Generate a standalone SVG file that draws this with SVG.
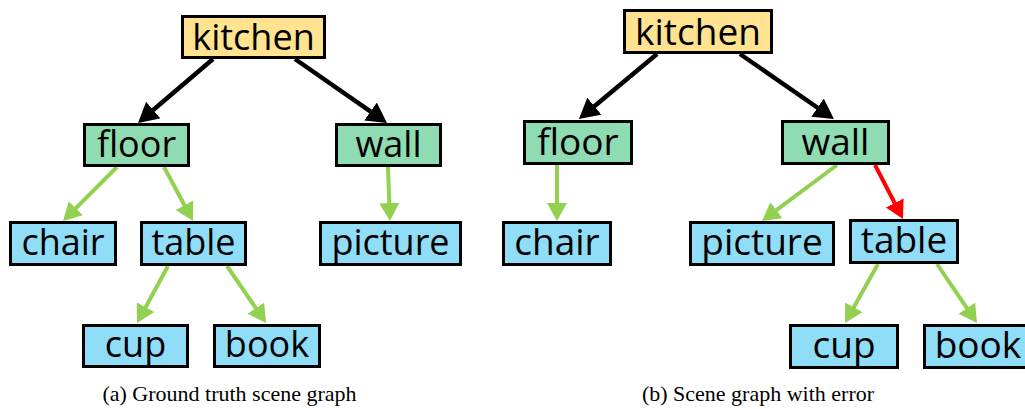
<svg xmlns="http://www.w3.org/2000/svg" width="1025" height="409" viewBox="0 0 1025 409">
  <style>
    .box { stroke: #000; stroke-width: 3; }
    .k { fill: #FFE391; }
    .g { fill: #8FDCB2; }
    .b { fill: #90DDF8; }
    .lbl { font-family: "Open Sans", "Liberation Sans", sans-serif; font-size: 36px; fill: #000; text-anchor: middle; }
    .lblr { font-size: 37px; }
    .cap { font-family: "Liberation Serif", "Times New Roman", serif; font-size: 22px; fill: #000; text-anchor: middle; }
    .blk { stroke: #000; stroke-width: 4.5; fill: none; marker-end: url(#ahBlack); }
    .grn { stroke: #92D050; stroke-width: 4; fill: none; marker-end: url(#ahGreen); }
    .red { stroke: #FF0000; stroke-width: 4; fill: none; marker-end: url(#ahRed); }
  </style>
  <defs>
    <marker id="ahBlack" markerUnits="userSpaceOnUse" markerWidth="21" markerHeight="23" refX="12" refY="11" orient="auto" viewBox="0 0 21 23">
      <path d="M0,0 L20,11 L0,22 z" fill="#000"/>
    </marker>
    <marker id="ahGreen" markerUnits="userSpaceOnUse" markerWidth="19" markerHeight="21" refX="10" refY="10" orient="auto" viewBox="0 0 19 21">
      <path d="M0,0 L18,10 L0,20 z" fill="#92D050"/>
    </marker>
    <marker id="ahRed" markerUnits="userSpaceOnUse" markerWidth="19" markerHeight="21" refX="10" refY="10" orient="auto" viewBox="0 0 19 21">
      <path d="M0,0 L18,10 L0,20 z" fill="#FF0000"/>
    </marker>
  </defs>

  <g id="connectors">
    <!-- (a) -->
    <line class="blk" x1="213" y1="59" x2="144.1" y2="117.8"/>
    <line class="blk" x1="295" y1="59" x2="380.4" y2="118.4"/>
    <line class="grn" x1="117" y1="167" x2="68.7" y2="215.3"/>
    <line class="grn" x1="164" y1="167" x2="189.2" y2="214"/>
    <line class="grn" x1="388" y1="167" x2="389.7" y2="213"/>
    <line class="grn" x1="168" y1="266" x2="140.8" y2="316"/>
    <line class="grn" x1="227" y1="266" x2="261.5" y2="316.4"/>
    <!-- (b) -->
    <line class="blk" x1="657" y1="54" x2="585.1" y2="113.9"/>
    <line class="blk" x1="740" y1="54" x2="827.4" y2="114.5"/>
    <line class="grn" x1="557" y1="165" x2="557" y2="213"/>
    <line class="grn" x1="837" y1="165" x2="768.4" y2="216.2"/>
    <line class="red" x1="875" y1="165" x2="899.3" y2="211.9"/>
    <line class="grn" x1="878" y1="264" x2="848.9" y2="316"/>
    <line class="grn" x1="937" y1="264" x2="972.5" y2="316.4"/>
  </g>

  <!-- (a) Ground truth -->
  <g id="a-kitchen"><rect class="box k" x="182.5" y="16.5" width="142" height="41"/><text class="lbl" x="253.5" y="50">kitchen</text></g>
  <g id="a-floor"><rect class="box g" x="84.5" y="124.5" width="104" height="41"/><text class="lbl" x="136.5" y="157">floor</text></g>
  <g id="a-wall"><rect class="box g" x="336.5" y="124.5" width="104" height="41"/><text class="lbl" x="388.5" y="157">wall</text></g>
  <g id="a-chair"><rect class="box b" x="10.5" y="222.5" width="105" height="42"/><text class="lbl" x="63" y="255">chair</text></g>
  <g id="a-table"><rect class="box b" x="141.5" y="222.5" width="104" height="42"/><text class="lbl" x="193.5" y="255">table</text></g>
  <g id="a-picture"><rect class="box b" x="320.5" y="222.5" width="140" height="42"/><text class="lbl" x="390.5" y="255">picture</text></g>
  <g id="a-cup"><rect class="box b" x="83.5" y="325.5" width="104" height="41"/><text class="lbl" x="135.5" y="357">cup</text></g>
  <g id="a-book"><rect class="box b" x="214.5" y="325.5" width="105" height="41"/><text class="lbl" x="267" y="357">book</text></g>

  <!-- (b) With error -->
  <g id="b-kitchen"><rect class="box k" x="624.5" y="10.5" width="147" height="42"/><text class="lbl lblr" x="698" y="45">kitchen</text></g>
  <g id="b-floor"><rect class="box g" x="524.5" y="121.5" width="107" height="42"/><text class="lbl lblr" x="578" y="155">floor</text></g>
  <g id="b-wall"><rect class="box g" x="782.5" y="121.5" width="106" height="42"/><text class="lbl lblr" x="835.5" y="155">wall</text></g>
  <g id="b-chair"><rect class="box b" x="503.5" y="222.5" width="107" height="42"/><text class="lbl lblr" x="557" y="255">chair</text></g>
  <g id="b-picture"><rect class="box b" x="690.5" y="222.5" width="143" height="42"/><text class="lbl lblr" x="762" y="255">picture</text></g>
  <g id="b-table"><rect class="box b" x="850.5" y="220.5" width="107" height="42"/><text class="lbl lblr" x="904" y="253">table</text></g>
  <g id="b-cup"><rect class="box b" x="790.5" y="325.5" width="107" height="42"/><text class="lbl lblr" x="844" y="358">cup</text></g>
  <g id="b-book"><rect class="box b" x="924.5" y="325.5" width="107" height="42"/><text class="lbl lblr" x="978" y="358">book</text></g>

  <text class="cap" x="229.5" y="401">(a) Ground truth scene graph</text>
  <text class="cap" x="758" y="401">(b) Scene graph with error</text>
</svg>
